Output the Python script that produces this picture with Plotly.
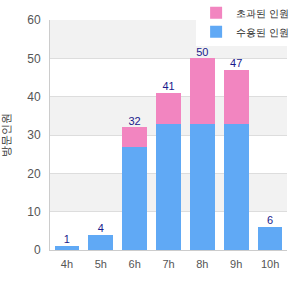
import plotly.graph_objects as go

categories = ["4h", "5h", "6h", "7h", "8h", "9h", "10h"]
accommodated = [1, 4, 27, 33, 33, 33, 6]
exceeded = [0, 0, 5, 8, 17, 14, 0]
totals = [1, 4, 32, 41, 50, 47, 6]

name_exceeded = "초과된 인원"
name_accommodated = "수용된 인원"
y_title = "방문인원"

blue = "#60a9f5"
pink = "#f285c0"

fig = go.Figure()
fig.add_trace(go.Bar(x=categories, y=accommodated, name=name_accommodated,
                     marker=dict(color=blue, line=dict(width=0))))
fig.add_trace(go.Bar(x=categories, y=exceeded, name=name_exceeded,
                     marker=dict(color=pink, line=dict(width=0))))
fig.add_trace(go.Scatter(x=categories, y=totals, mode="text", text=[str(t) for t in totals],
                         textposition="top center", showlegend=False, cliponaxis=False,
                         textfont=dict(color="#1a1a8c", size=11), hoverinfo="skip"))

# alternating background bands
for lo in range(10, 60, 20):
    fig.add_shape(type="rect", xref="paper", yref="y", x0=0, x1=1, y0=lo, y1=lo + 10,
                  fillcolor="#f2f2f2", line=dict(width=0), layer="below")

fig.update_layout(
    width=300, height=300,
    margin=dict(l=50, r=13, t=20, b=50, autoexpand=False),
    barmode="stack", bargap=0.27,
    plot_bgcolor="white", paper_bgcolor="white",
    font=dict(family="Liberation Sans, Arial, sans-serif", size=11, color="#555555"),
    showlegend=True,
    legend=dict(x=1.03, xanchor="right", y=1.095, yanchor="top", traceorder="reversed",
                bgcolor="white", font=dict(size=10, color="#222222"),
                itemwidth=30, tracegroupgap=0),
    xaxis=dict(showline=True, linecolor="#cccccc", linewidth=1, ticks="", showgrid=False,
               ticklabelstandoff=4,
               tickfont=dict(size=11, color="#555555")),
    yaxis=dict(range=[0, 60], dtick=10, showline=True, linecolor="#cccccc", linewidth=1,
               showgrid=True, gridcolor="#dddddd", gridwidth=1, zeroline=False,
               tickfont=dict(size=12, color="#555555"), ticks="", ticklabelstandoff=6,
               title=dict(text=y_title, font=dict(size=11, color="#333333"), standoff=18)),
)

fig.write_html("out.html")
